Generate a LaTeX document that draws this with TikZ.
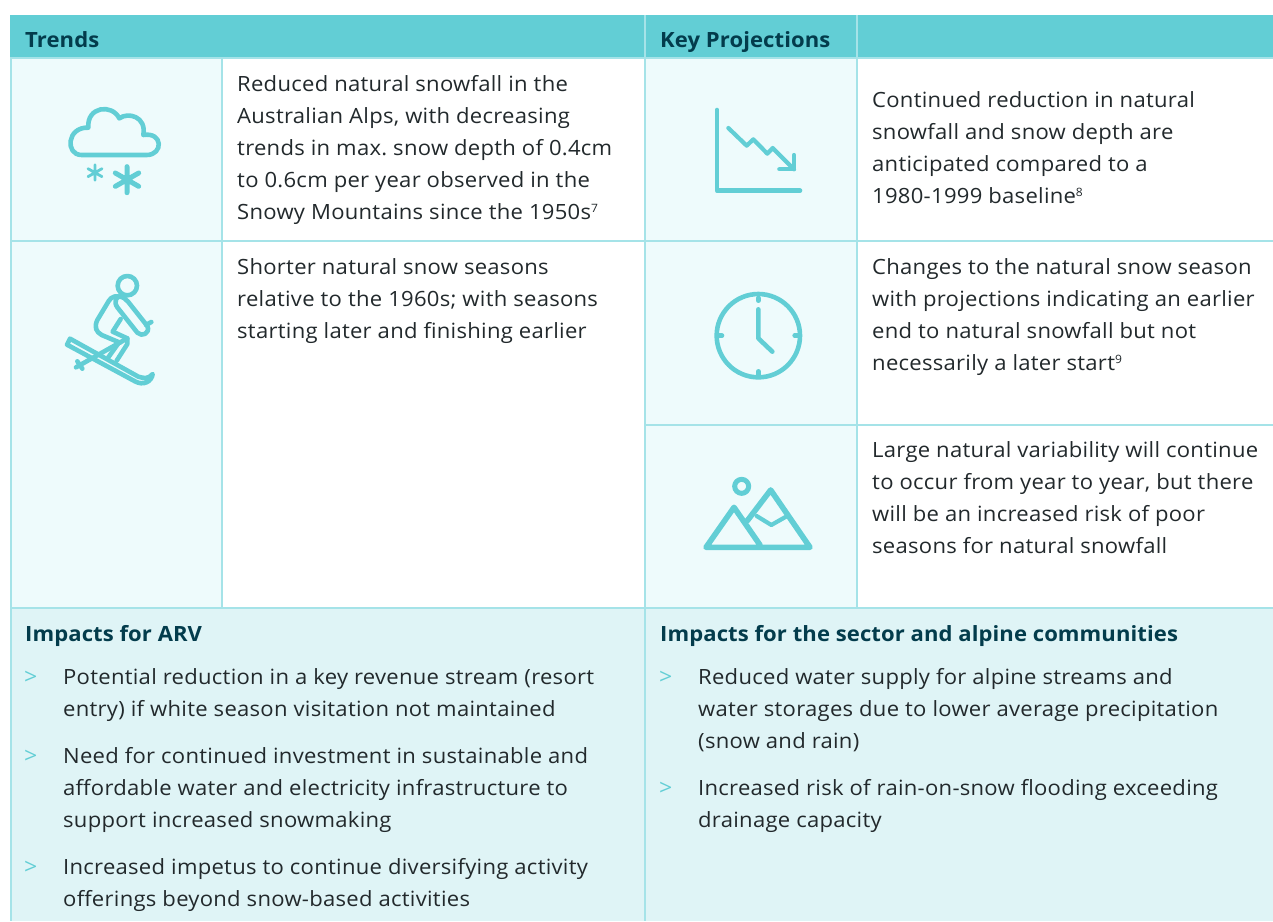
\documentclass[tikz,border=0pt]{standalone}
\usepackage{fontspec}
\setmainfont[FakeStretch=1.05,LetterSpace=1.3,BoldFeatures={FakeStretch=1.05,LetterSpace=0.4}]{Open Sans}
\frenchspacing
\definecolor{hdr}{HTML}{62CED5}
\definecolor{rule}{HTML}{A5E3E8}
\definecolor{pale}{HTML}{EEFBFC}
\definecolor{impact}{HTML}{DFF4F6}
\definecolor{ink}{HTML}{22292C}
\definecolor{head}{HTML}{033C4C}
\newcommand{\sups}[1]{\raisebox{6.5pt}{\fontsize{11.5}{12}\selectfont #1}}
\tikzset{
  x=1pt,y=-1pt,
  tl/.style={anchor=base west,inner sep=0pt,text=ink,font=\fontsize{21}{24}\selectfont\frenchspacing},
  hd/.style={anchor=base west,inner sep=0pt,text=head,font=\fontsize{21}{24}\selectfont\bfseries},
  bl/.style={anchor=base west,inner sep=0pt,text=hdr,font=\fontsize{22}{24}\selectfont},
  ic/.style={draw=hdr,line width=4.6pt,line cap=round,line join=round},
  zm/.style={x=0.33333pt,y=-0.33333pt},
  gl/.style={draw=rule,line width=2pt}
}
\begin{document}
\begin{tikzpicture}
\useasboundingbox (0,0) rectangle (1273,921);
\fill[white] (0,0) rectangle (1273,921);
% fills
\fill[hdr] (10,15) rectangle (1273,58);
\fill[pale] (10,58) rectangle (221,607);
\fill[pale] (645,58) rectangle (857,607);
\fill[impact] (10,607) rectangle (1273,921);
% grid
\draw[gl] (0+10.5,58) -- (10.5,921);
\draw[gl] (221.5,58) -- (221.5,607);
\draw[gl] (644.5,15) -- (644.5,921);
\draw[gl] (856.5,15) -- (856.5,607);
\draw[gl] (10,58) -- (1273,58);
\draw[gl] (10,241) -- (1273,241);
\draw[gl] (645,424.5) -- (1273,424.5);
\draw[gl] (10,607.5) -- (1273,607.5);
% headers
\node[hd] (h1) at (25,47) {Trends};
\node[hd] (h2) at (660,47) {Key Projections};
% trends text
\node[tl] (a1) at (237,91) {Reduced natural snowfall in the};
\node[tl] (a2) at (237,123) {Australian Alps, with decreasing};
\node[tl] (a3) at (237,155) {trends in max. snow depth of 0.4cm};
\node[tl] (a4) at (237,187) {to 0.6cm per year observed in the};
\node[tl] (a5) at (237,219) {Snowy Mountains since the 1950s\sups{7}};
\node[tl] (b1) at (237,274) {Shorter natural snow seasons};
\node[tl] (b2) at (237,306) {relative to the 1960s; with seasons};
\node[tl] (b3) at (237,338) {starting later and finishing earlier};
% projections text
\node[tl] (c1) at (872,107) {Continued reduction in natural};
\node[tl] (c2) at (872,139) {snowfall and snow depth are};
\node[tl] (c3) at (872,171) {anticipated compared to a};
\node[tl] (c4) at (872,203) {1980-1999 baseline\sups{8}};
\node[tl] (d1) at (872,274) {Changes to the natural snow season};
\node[tl] (d2) at (872,306) {with projections indicating an earlier};
\node[tl] (d3) at (872,338) {end to natural snowfall but not};
\node[tl] (d4) at (872,370) {necessarily a later start\sups{9}};
\node[tl] (e1) at (872,457) {Large natural variability will continue};
\node[tl] (e2) at (872,489) {to occur from year to year, but there};
\node[tl] (e3) at (872,521) {will be an increased risk of poor};
\node[tl] (e4) at (872,553) {seasons for natural snowfall};
% impacts left
\node[hd] (i0) at (25,641) {Impacts for ARV};
\node[bl] (ib1) at (24,684) {>};
\node[tl] (i1) at (63,684) {Potential reduction in a key revenue stream (resort};
\node[tl] (i2) at (63,716) {entry) if white season visitation not maintained};
\node[bl] (ib2) at (24,763) {>};
\node[tl] (i3) at (63,763) {Need for continued investment in sustainable and};
\node[tl] (i4) at (63,795) {affordable water and electricity infrastructure to};
\node[tl] (i5) at (63,827) {support increased snowmaking};
\node[bl] (ib3) at (24,874) {>};
\node[tl] (i6) at (63,874) {Increased impetus to continue diversifying activity};
\node[tl] (i7) at (63,906) {offerings beyond snow-based activities};
% impacts right
\node[hd] (j0) at (660,641) {Impacts for the sector and alpine communities};
\node[bl] (jb1) at (659,684) {>};
\node[tl] (j1) at (698,684) {Reduced water supply for alpine streams and};
\node[tl] (j2) at (698,716) {water storages due to lower average precipitation};
\node[tl] (j3) at (698,748) {(snow and rain)};
\node[bl] (jb2) at (659,795) {>};
\node[tl] (j4) at (698,795) {Increased risk of rain-on-snow flooding exceeding};
\node[tl] (j5) at (698,827) {drainage capacity};
% cloud icon
\begin{scope}[shift={(0,0)},zm]
\draw[ic] (245,465) -- (440,465) .. controls (490,465) and (490,395) .. (430,405)
  .. controls (440,350) and (385,335) .. (358,355)
  .. controls (335,310) and (260,320) .. (265,383)
  .. controls (200,380) and (195,465) .. (245,465);
\draw[ic,line width=2.8pt] (285,494) -- (285,541) (264,506) -- (306,530) (264,530) -- (306,506);
\draw[ic,line width=5pt] (381,500) -- (381,578) (346,519) -- (416,559) (346,559) -- (416,519);
\end{scope}
% skier icon
\begin{scope}[shift={(20,250)},zm]
\draw[ic] (322,107) circle (29);
\draw[ic] (298,140) .. controls (275,135) and (268,150) .. (262,160) -- (232,210)
  .. controls (222,232) and (228,245) .. (245,255) -- (300,278);
\draw[ic] (298,140) .. controls (310,140) and (318,148) .. (325,156) -- (382,228)
  .. controls (392,250) and (365,262) .. (352,248) -- (292,172) .. controls (280,155) and (290,140) .. (298,140);
\draw[ic] (378,225) -- (394,216);
\draw[ic] (302,207) -- (278,245) -- (322,265) -- (322,282) -- (290,332);
\draw[ic] (322,265) -- (168,352);
\draw[ic] (172,334) -- (187,356);
\draw[ic] (295,280) -- (265,322);
\draw[ic] (150,266) -- (141,284) -- (345,394) .. controls (370,408) and (395,395) .. (398,372)
  .. controls (385,388) and (372,385) .. (355,380) -- cycle;
\end{scope}
% chart icon
\begin{scope}[shift={(640,0)},zm]
\draw[ic] (231,330) -- (231,572) -- (480,572);
\draw[ic,line width=4.2pt] (265,384) -- (320,437) -- (340,418) -- (382,461) -- (398,444) -- (462,508);
\draw[ic,line width=4.2pt] (462,465) -- (462,508) -- (418,508);
\end{scope}
% clock icon
\begin{scope}[shift={(670,270)},zm]
\draw[ic] (265,197) circle (125);
\draw[ic] (265,84) -- (265,92) (265,304) -- (265,314) (148,197) -- (156,197) (374,197) -- (382,197);
\draw[ic] (265,118) -- (265,205) -- (307,245);
\end{scope}
% mountains icon
\begin{scope}[shift={(670,270)},zm]
\draw[ic,line width=5pt] (215,649) circle (21);
\draw[ic,line width=5.6pt] (270,825) -- (192,712) -- (108,832) -- (420,832) -- (302,660) -- (232,752);
\draw[ic,line width=4.2pt] (260,738) -- (304,765) -- (348,740);
\end{scope}
\end{tikzpicture}
\end{document}
